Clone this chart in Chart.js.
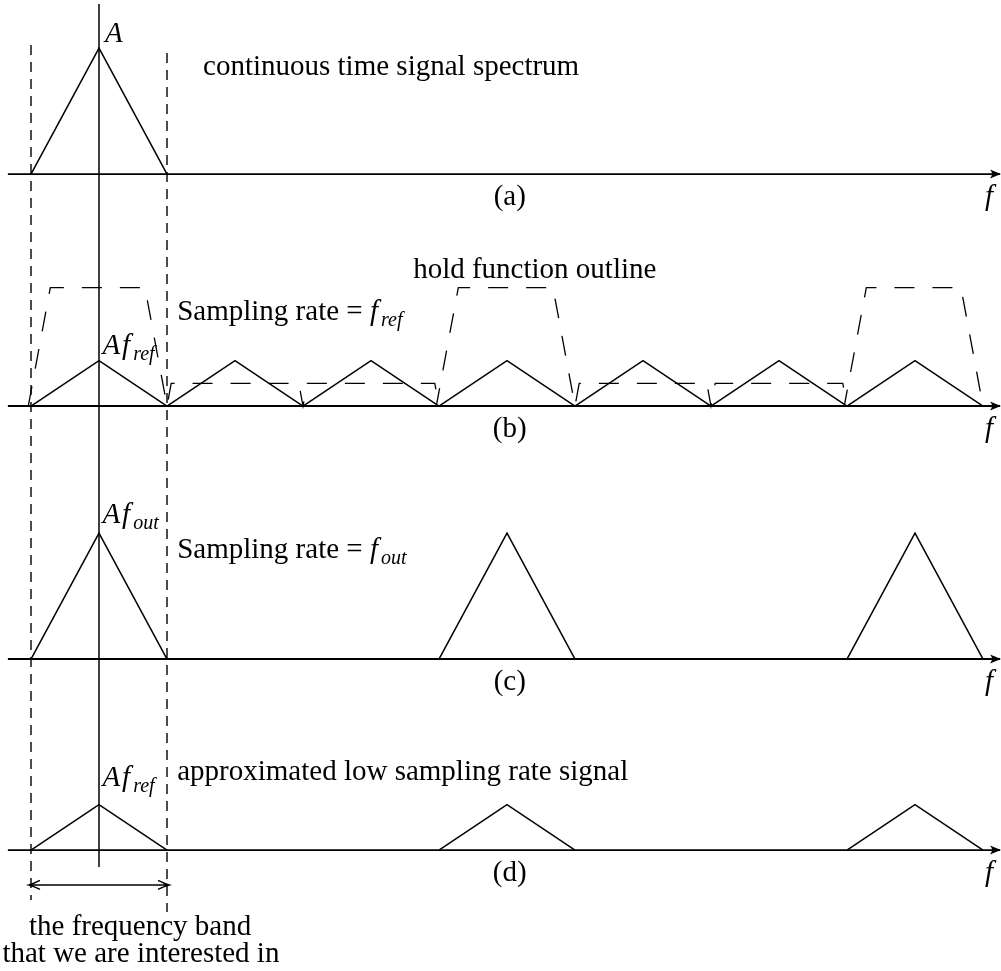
<!DOCTYPE html>
<html>
<head>
<meta charset="utf-8">
<script src="https://cdn.jsdelivr.net/npm/chart.js@4.4.1/dist/chart.umd.min.js"></script>
<style>
  html, body { margin: 0; padding: 0; background: #fff; }
  canvas { display: block; }
</style>
</head>
<body>
<canvas id="spec" width="1001" height="971"></canvas>
<script>
// frequency in units of half the band of interest (the band is -1 .. 1)
// amplitude in units of A
var bandEdges = [-1, 1];
var specA = [0];                          // (a) continuous time spectrum
var specB = [0, 2, 4, 6, 8, 10, 12];      // (b) images every f_ref
var specC = [0, 6, 12];                   // (c) images every f_out
var specD = [0, 6, 12];                   // (d) approximated signal
var peaks = { a: 1.0, b: 0.36, c: 1.0, d: 0.36 };
var holdCenters = [0, 2, 4, 6, 8, 10, 12];
var holdLevels = [0.94, 0.18, 0.18, 0.94, 0.18, 0.18, 0.94];

// layout (data units): baselines of the four panels
var base = { a: 6.325, b: 4.484, c: 2.476, d: 0.960 };
var xMin = -99 / 68, xMax = 902 / 68, yMax = 971 / 126;
var axisFrom = -1.34, axisTo = 13.25;
var holdSlope = 2.9;

function triangles(centers, h, y0) {
  var pts = [];
  centers.forEach(function (c) {
    pts.push({ x: c + bandEdges[0], y: y0 }, { x: c, y: y0 + h }, { x: c + bandEdges[1], y: y0 });
    pts.push({ x: c + bandEdges[1], y: null });
  });
  return pts;
}

function holdOutline(y0) {
  var pts = [];
  holdCenters.forEach(function (c, i) {
    var lv = holdLevels[i], inset = lv / holdSlope;
    var w = lv > 0.5 ? 1.04 : 1;
    pts.push({ x: c - w, y: y0 }, { x: c - w + inset, y: y0 + lv },
             { x: c + 1 - inset, y: y0 + lv }, { x: c + 1, y: y0 });
  });
  return pts;
}

function line(pts, w, dash) {
  return { data: pts, showLine: true, borderColor: '#000', borderWidth: w,
           borderDash: dash || [], pointRadius: 0, fill: false, clip: false,
           spanGaps: false, tension: 0 };
}

var datasets = [];
['a', 'b', 'c', 'd'].forEach(function (p) {
  datasets.push(line([{ x: axisFrom, y: base[p] }, { x: axisTo, y: base[p] }], 1.8));
});
datasets.push(line(triangles(specA, peaks.a, base.a), 1.5));
datasets.push(line(triangles(specB, peaks.b, base.b), 1.5));
datasets.push(line(triangles(specC, peaks.c, base.c), 1.5));
datasets.push(line(triangles(specD, peaks.d, base.d), 1.5));
datasets.push(line(holdOutline(base.b), 1.3, [20, 18]));
// f = 0 axis and band edges
datasets.push(line([{ x: 0, y: 7.675 }, { x: 0, y: 0.825 }], 1.5));
datasets.push(line([{ x: bandEdges[0], y: 7.349 }, { x: bandEdges[0], y: 0.563 }], 1.4, [10, 7]));
datasets.push(line([{ x: bandEdges[1], y: 7.286 }, { x: bandEdges[1], y: 0.468 }], 1.4, [10, 7]));

var SERIF = '"Liberation Serif", "Times New Roman", serif';
var FS = 29, SUB = 20;
// label parts: [text, italic, subscript]
var labels = [
  { f: 0.09, p: 'a', amp: 1.048, parts: [['A', 1]] },
  { f: 1.53, p: 'a', amp: 0.786, parts: [['continuous time signal spectrum']] },
  { f: 4.62, p: 'b', amp: 1.016, parts: [['hold function outline']] },
  { f: 1.15, p: 'b', amp: 0.683, parts: [['Sampling rate = '], ['f', 1], ['ref', 1, 1]] },
  { f: 0.05, p: 'b', amp: 0.413, parts: [['A', 1], ['f', 1], ['ref', 1, 1]] },
  { f: 0.05, p: 'c', amp: 1.079, parts: [['A', 1], ['f', 1], ['out', 1, 1]] },
  { f: 1.15, p: 'c', amp: 0.802, parts: [['Sampling rate = '], ['f', 1], ['out', 1, 1]] },
  { f: 0.05, p: 'd', amp: 0.508, parts: [['A', 1], ['f', 1], ['ref', 1, 1]] },
  { f: 1.15, p: 'd', amp: 0.556, parts: [['approximated low sampling rate signal']] },
  { f: -1.03, p: 'd', amp: -0.675, parts: [['the frequency band']] },
  { f: -1.42, p: 'd', amp: -0.889, parts: [['that we are interested in']] }
];
var panelNames = ['(a)', '(b)', '(c)', '(d)'];

var drawExtras = {
  id: 'drawExtras',
  afterDatasetsDraw: function (chart) {
    var ctx = chart.ctx, sx = chart.scales.x, sy = chart.scales.y;
    ctx.save();
    ctx.fillStyle = '#000';
    ctx.strokeStyle = '#000';
    ctx.textBaseline = 'alphabetic';

    // arrow heads on the frequency axes, panel names and f
    ['a', 'b', 'c', 'd'].forEach(function (p, i) {
      var X = sx.getPixelForValue(axisTo) + 1, Y = sy.getPixelForValue(base[p]);
      ctx.beginPath();
      ctx.moveTo(X, Y);
      ctx.lineTo(X - 11, Y - 4.5);
      ctx.quadraticCurveTo(X - 7, Y, X - 11, Y + 4.5);
      ctx.closePath();
      ctx.fill();
      var ly = sy.getPixelForValue(base[p] - 0.246);
      ctx.font = FS + 'px ' + SERIF;
      ctx.textAlign = 'center';
      ctx.fillText(panelNames[i], sx.getPixelForValue(6.04), ly);
      ctx.font = 'italic ' + FS + 'px ' + SERIF;
      ctx.textAlign = 'left';
      ctx.fillText('f', sx.getPixelForValue(13.03), ly);
    });

    // double arrow marking the band
    var ay = sy.getPixelForValue(0.683);
    var x0 = sx.getPixelForValue(bandEdges[0] - 0.03), x1 = sx.getPixelForValue(bandEdges[1] + 0.03);
    ctx.lineWidth = 1.5;
    ctx.beginPath();
    ctx.moveTo(x0, ay); ctx.lineTo(x1, ay);
    ctx.moveTo(x0 + 11, ay - 4.5); ctx.quadraticCurveTo(x0 + 4, ay - 1, x0, ay);
    ctx.quadraticCurveTo(x0 + 4, ay + 1, x0 + 11, ay + 4.5);
    ctx.moveTo(x1 - 11, ay - 4.5); ctx.quadraticCurveTo(x1 - 4, ay - 1, x1, ay);
    ctx.quadraticCurveTo(x1 - 4, ay + 1, x1 - 11, ay + 4.5);
    ctx.stroke();

    // text labels
    ctx.textAlign = 'left';
    labels.forEach(function (l) {
      var x = sx.getPixelForValue(l.f), y = sy.getPixelForValue(base[l.p] + l.amp);
      l.parts.forEach(function (pt) {
        var sub = pt[2], size = sub ? SUB : FS;
        ctx.font = (pt[1] ? 'italic ' : '') + size + 'px ' + SERIF;
        if (sub) x += 1;
        ctx.fillText(pt[0], x, sub ? y + 6 : y);
        x += ctx.measureText(pt[0]).width + (pt[1] && !sub ? 2 : 0);
      });
    });
    ctx.restore();
  }
};

new Chart(document.getElementById('spec').getContext('2d'), {
  type: 'scatter',
  data: { datasets: datasets },
  options: {
    responsive: false,
    animation: false,
    events: [],
    layout: { padding: 0 },
    plugins: { legend: { display: false }, tooltip: { enabled: false } },
    scales: {
      x: { type: 'linear', display: false, min: xMin, max: xMax },
      y: { type: 'linear', display: false, min: 0, max: yMax }
    }
  },
  plugins: [drawExtras]
});
</script>
</body>
</html>
